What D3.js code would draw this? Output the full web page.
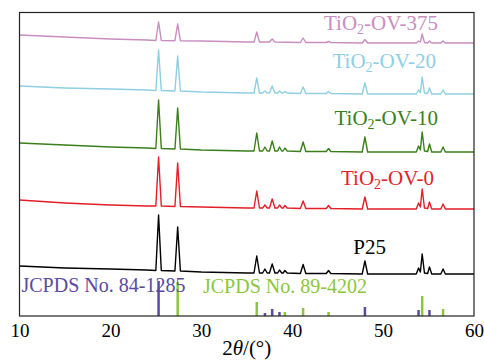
<!DOCTYPE html>
<html>
<head>
<meta charset="utf-8">
<script src="https://cdn.jsdelivr.net/npm/d3@7"></script>
<style>
  body { margin: 0; background: #fff; }
  svg text { font-family: "Liberation Serif", "Times New Roman", serif; }
</style>
</head>
<body>
<div id="chart"></div>
<script>
// XRD patterns, intensity in a.u. (traces already offset from each other)
const xTicks = [10, 20, 30, 40, 50, 60];

const p25 = [[10,50],[15,48],[20,47],[24,46],[25.0,45.5],[25.3,101],[25.6,45.5],[27.1,45],[27.4,89],[27.7,45],
  [30,44],[35,43],[35.8,43],[36.1,60],[36.4,43],[36.75,43],[37.0,47],[37.25,43],[37.5,43],[37.8,52],[38.1,43],
  [38.4,43],[38.6,46],[38.85,43],[39.0,43],[39.2,45.5],[39.45,43],[40.9,42.5],[41.2,51.5],[41.5,42.5],
  [43.75,42.5],[44.0,45.5],[44.25,42.5],[47.7,42],[48.0,55],[48.3,42],[53.65,42],[53.9,48],[54.1,44],[54.3,62],
  [54.55,43],[54.9,42.5],[55.1,49],[55.35,42],[56.35,42],[56.6,47],[56.85,42],[60,42]];

const ov0 = [[10,116],[15,113],[20,111],[24,110],[25.0,110],[25.3,159],[25.6,110],[27.1,109.5],[27.4,153],[27.7,109.5],
  [30,109],[35,108],[35.8,108],[36.1,125],[36.4,108],[36.75,108],[37.0,111],[37.25,108],[37.5,108],[37.8,117],[38.1,108],
  [38.4,108],[38.6,111],[38.85,108],[39.0,108],[39.2,110.5],[39.45,108],[40.9,107.5],[41.2,115],[41.5,107.5],
  [43.75,107.5],[44.0,110.5],[44.25,107.5],[47.7,107],[48.0,119],[48.3,107],[53.65,107],[53.9,113],[54.1,109],[54.3,127],
  [54.55,108],[54.9,107.5],[55.1,114],[55.35,107],[56.35,107],[56.6,112],[56.85,107],[60,107]];

const ov10 = [[10,173],[15,171],[20,169],[24,168],[25.0,167.5],[25.3,216],[25.6,167.5],[27.1,167],[27.4,208],[27.7,167],
  [30,166],[35,165],[35.8,165],[36.1,183],[36.4,165],[36.75,165],[37.0,169],[37.25,165],[37.5,165],[37.8,175],[38.1,165],
  [38.4,165],[38.6,169],[38.85,165],[39.0,165],[39.2,168],[39.45,165],[40.9,164.5],[41.2,174],[41.5,164.5],
  [43.75,164.5],[44.0,167.5],[44.25,164.5],[47.7,164],[48.0,179],[48.3,164],[53.65,164],[53.9,170],[54.1,166],[54.3,184],
  [54.55,165],[54.9,164.5],[55.1,172],[55.35,164],[56.35,164],[56.6,169],[56.85,164],[60,164]];

const ov20 = [[10,230],[15,228],[20,227],[24,226],[25.0,225.5],[25.3,266],[25.6,225.5],[27.1,225],[27.4,260],[27.7,225],
  [30,224],[35,223],[35.8,223],[36.1,238],[36.4,223],[36.75,223],[37.0,225],[37.25,223],[37.5,223],[37.8,230],[38.1,223],
  [38.4,223],[38.6,225],[38.85,223],[39.0,223],[39.2,224.5],[39.45,223],[40.9,222.5],[41.2,229],[41.5,222.5],
  [43.75,222.5],[44.0,224.5],[44.25,222.5],[47.7,222],[48.0,233],[48.3,222],[53.65,222],[53.9,226],[54.1,223.5],[54.3,239],
  [54.55,223],[54.9,222.5],[55.1,228],[55.35,222],[56.35,222],[56.6,226],[56.85,222],[60,222]];

const ov375 = [[10,281],[15,279],[20,277],[24,276],[25.0,275.5],[25.3,294],[25.6,275.5],[27.1,275.3],[27.4,292],[27.7,275.3],
  [30,275],[35,274],[35.8,274],[36.1,284],[36.4,274],[37.5,274],[37.8,277],[38.1,274],[40.9,273.5],[41.2,278],[41.5,273.5],
  [43.75,273.5],[44.0,274.5],[44.25,273.5],[47.7,273],[48.0,276.5],[48.3,273],[53.65,273],[53.9,275],[54.1,274],[54.3,282],
  [54.55,273.5],[54.9,273],[55.1,275],[55.35,273],[56.35,273],[56.6,275],[56.85,273],[60,273]];

// reference stick patterns
const anataseRef = [[25.3,35],[37.0,3],[37.8,7],[38.6,4],[48.0,9],[53.9,6],[55.1,6]];   // JCPDS No. 84-1285
const rutileRef = [[27.4,34],[36.1,14],[39.2,4],[41.2,8],[44.0,4],[54.3,20],[56.6,7]];   // JCPDS No. 89-4202

const series = [
  { name: 'P25', values: p25, color: '#000000', label: { x: 386, y: 254 } },
  { name: 'TiO2-OV-0', values: ov0, color: '#e41e26', label: { x: 434, y: 185 } },
  { name: 'TiO2-OV-10', values: ov10, color: '#3b7f1b', label: { x: 438, y: 125 } },
  { name: 'TiO2-OV-20', values: ov20, color: '#8ecfe4', label: { x: 436, y: 68 } },
  { name: 'TiO2-OV-375', values: ov375, color: '#c98dc0', label: { x: 438, y: 30 } }
];

const serif = '"Liberation Serif", "Times New Roman", serif';
const W = 484, H = 360;
const margin = { top: 12.5, right: 10, bottom: 44, left: 19.5 };
const width = W - margin.left - margin.right;
const height = H - margin.top - margin.bottom;

const svg = d3.select('#chart').append('svg')
  .attr('width', W)
  .attr('height', H)
  .attr('font-family', serif);

const g = svg.append('g')
  .attr('transform', 'translate(' + margin.left + ',' + margin.top + ')');

const x = d3.scaleLinear().domain([10, 60]).range([0, width]);
const y = d3.scaleLinear().domain([0, height]).range([height, 0]);

const line = d3.line()
  .x(d => x(d[0]))
  .y(d => y(d[1]));

// patterns
series.forEach(s => {
  g.append('path')
    .datum(s.values)
    .attr('fill', 'none')
    .attr('stroke', s.color)
    .attr('stroke-width', 1.4)
    .attr('stroke-linejoin', 'round')
    .attr('d', line);
});

// sample labels, TiO2 with subscript
series.forEach(s => {
  const t = svg.append('text')
    .attr('x', s.label.x)
    .attr('y', s.label.y)
    .attr('text-anchor', 'end')
    .attr('fill', s.color)
    .attr('font-size', 21);
  if (s.name.startsWith('TiO2')) {
    t.append('tspan').text('TiO');
    t.append('tspan').attr('dy', 4).attr('font-size', 14).text('2');
    t.append('tspan').attr('dy', -4).text(s.name.slice(4));
  } else {
    t.text(s.name);
  }
});

// stick patterns
function drawSticks(data, color) {
  g.selectAll(null)
    .data(data)
    .enter()
    .append('line')
    .attr('x1', d => x(d[0]))
    .attr('x2', d => x(d[0]))
    .attr('y1', y(0))
    .attr('y2', d => y(d[1]))
    .attr('stroke', color)
    .attr('stroke-width', 2.5);
}
drawSticks(anataseRef, '#5a4b9f');
drawSticks(rutileRef, '#8cc63e');

svg.append('text')
  .attr('x', 21.5).attr('y', 292)
  .attr('fill', '#5a4b9f')
  .attr('font-size', 20)
  .text('JCPDS No. 84-1285');

svg.append('text')
  .attr('x', 203).attr('y', 293)
  .attr('fill', '#8cc63e')
  .attr('font-size', 20)
  .text('JCPDS No. 89-4202');

// x axis, labels only
const xAxis = g.append('g')
  .attr('transform', 'translate(0,' + height + ')')
  .call(d3.axisBottom(x).tickValues(xTicks).tickSize(0).tickPadding(8).tickFormat(d3.format('d')))
  .attr('font-family', serif)
  .attr('font-size', 19);
xAxis.select('.domain').remove();
xAxis.selectAll('text').attr('fill', '#000');

// frame
g.append('rect')
  .attr('x', 0).attr('y', 0)
  .attr('width', width).attr('height', height)
  .attr('fill', 'none')
  .attr('stroke', '#222')
  .attr('stroke-width', 1.2);

// axis title
const title = svg.append('text')
  .attr('x', margin.left + width / 2)
  .attr('y', 355)
  .attr('text-anchor', 'middle')
  .attr('font-size', 21);
title.append('tspan').text('2');
title.append('tspan').attr('font-style', 'italic').text('θ');
title.append('tspan').text('/(°)');
</script>
</body>
</html>
